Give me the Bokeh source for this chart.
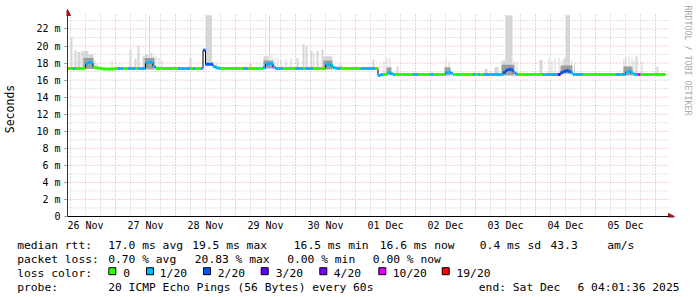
import math
from bokeh.plotting import figure
from bokeh.layouts import column
from bokeh.models import Range1d, FixedTicker, Arrow, NormalHead, ColumnDataSource
from bokeh.core.properties import value
from bokeh.embed import file_html
from bokeh.resources import INLINE

# ---------------- data ----------------
day_labels = ["26 Nov", "27 Nov", "28 Nov", "29 Nov", "30 Nov",
              "01 Dec", "02 Dec", "03 Dec", "04 Dec", "05 Dec"]
day_label_hours = [12, 36, 60, 84, 108, 132, 156, 180, 204, 228]   # noon of each day (hours since 26 Nov 00:00)
y_ticks = [0, 2, 4, 6, 8, 10, 12, 14, 16, 18, 20, 22]
y_tick_labels = ["0", "2 m", "4 m", "6 m", "8 m", "10 m", "12 m", "14 m", "16 m", "18 m", "20 m", "22 m"]

first_hour = 5  # first hourly bin: 26 Nov 05:00
median_rtt = [  # ms, hourly bins
    17.35, 17.35, 17.35, 17.35, 17.35, 17.35, 17.4, 17.9, 18.05, 18.0, 17.5, 17.45, 17.4, 17.35, 17.3, 17.3, 17.3, 17.3, 17.3,
    17.35, 17.35, 17.35, 17.35, 17.35, 17.35, 17.35, 17.35, 17.35, 17.35, 17.35, 17.35, 18.0, 18.1, 18.05, 17.6, 17.4, 17.35, 17.35, 17.35, 17.35, 17.35, 17.35, 17.35,
    17.35, 17.35, 17.35, 17.35, 17.35, 17.35, 17.35, 17.35, 17.35, 17.35, 17.35, 19.5, 17.85, 17.85, 17.85, 17.6, 17.45, 17.4, 17.35, 17.35, 17.35, 17.35, 17.35, 17.35,
    17.35, 17.35, 17.35, 17.35, 17.35, 17.35, 17.35, 17.35, 17.35, 17.35, 17.35, 17.45, 17.9, 17.95, 17.95, 17.5, 17.35, 17.35, 17.35, 17.35, 17.35, 17.35, 17.35, 17.35,
    17.35, 17.35, 17.35, 17.35, 17.35, 17.35, 17.35, 17.35, 17.35, 17.35, 17.35, 17.35, 17.8, 17.85, 17.7, 17.45, 17.4, 17.35, 17.35, 17.35, 17.35, 17.35, 17.35, 17.35,
    17.35, 17.35, 17.35, 17.35, 17.35, 17.35, 17.35, 17.35, 17.35, 16.55, 16.65, 16.65, 16.7, 16.9, 16.75, 16.65, 16.65, 16.65, 16.65, 16.65, 16.65, 16.65, 16.65, 16.65,
    16.65, 16.65, 16.65, 16.65, 16.65, 16.65, 16.65, 16.65, 16.65, 16.65, 16.65, 16.65, 16.85, 16.95, 16.8, 16.65, 16.65, 16.65, 16.65, 16.65, 16.65, 16.65, 16.65, 16.65,
    16.65, 16.65, 16.65, 16.65, 16.65, 16.65, 16.65, 16.65, 16.65, 16.65, 16.65, 16.9, 17.15, 17.25, 17.2, 16.9, 16.7, 16.65, 16.65, 16.65, 16.65, 16.65, 16.65, 16.65,
    16.65, 16.65, 16.65, 16.65, 16.65, 16.65, 16.65, 16.65, 16.65, 16.65, 16.85, 17.0, 17.1, 17.05, 16.85, 16.65, 16.65, 16.65, 16.65, 16.65, 16.65, 16.65, 16.65, 16.65,
    16.65, 16.65, 16.65, 16.65, 16.65, 16.65, 16.65, 16.65, 16.65, 16.65, 16.65, 16.65, 16.9, 17.05, 16.85, 16.7, 16.65, 16.65, 16.65, 16.65, 16.65, 16.65, 16.65, 16.65,
    16.65, 16.65, 16.65, 16.65,
]
lost_pings = [  # pings lost out of 20, hourly bins
    0, 0, 1, 0, 0, 0, 0, 1, 1, 1, 0, 0, 0, 0, 0, 0, 0, 0, 0,
    0, 1, 1, 0, 0, 1, 1, 1, 0, 1, 1, 1, 1, 1, 1, 1, 0, 0, 0, 0, 0, 0, 0, 0,
    0, 1, 1, 1, 1, 1, 0, 1, 0, 0, 1, 2, 2, 2, 2, 1, 1, 1, 0, 0, 0, 0, 0, 0,
    0, 0, 0, 1, 1, 0, 0, 0, 0, 0, 0, 1, 1, 1, 1, 1, 1, 1, 1, 0, 0, 0, 0, 0,
    1, 1, 1, 0, 1, 1, 1, 0, 0, 0, 0, 0, 1, 1, 1, 1, 1, 1, 0, 0, 0, 0, 0, 0,
    0, 0, 1, 1, 1, 1, 1, 1, 0, 1, 1, 0, 0, 1, 1, 1, 0, 0, 0, 0, 0, 0, 0, 1,
    1, 0, 0, 0, 0, 0, 1, 0, 0, 0, 0, 0, 1, 1, 1, 0, 0, 0, 0, 0, 0, 0, 0, 1,
    0, 1, 0, 1, 1, 1, 1, 1, 1, 1, 1, 2, 2, 2, 2, 1, 1, 0, 0, 0, 0, 0, 0, 0,
    0, 0, 0, 1, 1, 1, 1, 1, 1, 3, 2, 2, 2, 2, 1, 1, 1, 1, 1, 0, 0, 0, 0, 0,
    0, 0, 0, 0, 0, 0, 0, 0, 1, 1, 1, 1, 1, 1, 1, 1, 1, 10, 0, 0, 0, 0, 0, 0,
    0, 0, 0, 0,
]
# light smoke (spread of the 20 pings): start hour, end hour, highest ping (ms)
smoke_start = [6.0, 7.6, 8.8, 10.4, 11.2, 13.2, 15.6, 16.4, 22.4,
               29.6, 31.6, 32.8, 34.8, 35.6, 37.4, 38.0, 39.2, 40.0, 41.2, 42.4,
               53.6, 59.2, 60.2, 63.0, 64.2,
               77.6, 83.2, 85.4, 86.4, 87.6, 88.8, 90.0, 92.0, 94.0,
               96.4, 98.8, 100.0, 102.0, 103.2, 104.4, 106.4, 107.2, 113.2,
               126.8, 131.2, 132.4, 133.6, 136.4,
               156.0, 157.2, 171.6, 175.6, 178.4, 180.0, 183.2, 184.4,
               193.6, 197.2, 198.4, 199.6, 201.2, 202.4, 203.2, 204.2, 206.2, 207.4,
               227.2, 228.0, 229.2, 230.4, 231.2, 232.0, 234.4, 240.4]
smoke_end = [6.8, 8.4, 10.0, 11.2, 13.2, 15.2, 16.0, 16.8, 22.8,
             30.4, 32.4, 33.6, 35.6, 37.2, 37.8, 38.8, 39.6, 40.4, 41.6, 42.8,
             54.4, 60.0, 62.6, 63.4, 64.6,
             78.4, 85.2, 85.8, 86.8, 88.0, 89.2, 90.4, 92.4, 94.4,
             97.2, 99.6, 100.8, 102.8, 103.6, 105.2, 107.2, 110.8, 114.8,
             127.6, 131.6, 132.8, 134.0, 137.2,
             156.4, 157.6, 172.8, 177.2, 180.0, 182.8, 183.6, 184.8,
             194.8, 197.6, 198.8, 200.0, 201.6, 202.8, 204.2, 205.8, 206.6, 207.8,
             227.6, 228.4, 229.6, 230.8, 231.6, 232.8, 234.8, 241.2]
smoke_top = [21.0, 19.5, 19.3, 19.4, 19.4, 19.0, 18.3, 18.0, 18.3,
             19.6, 18.5, 20.0, 18.8, 19.0, 23.6, 19.2, 18.9, 18.8, 18.6, 18.3,
             18.6, 19.7, 23.6, 18.2, 18.0,
             17.9, 18.8, 23.6, 19.0, 18.6, 18.6, 18.4, 18.5, 18.6,
             18.6, 20.2, 20.0, 19.4, 19.2, 19.4, 19.6, 18.8, 17.8,
             18.4, 18.3, 18.6, 18.6, 17.6,
             18.45, 18.2, 17.3, 17.5, 18.3, 23.6, 18.2, 18.1,
             18.4, 18.6, 18.3, 18.5, 18.6, 18.4, 18.6, 23.6, 18.2, 18.0,
             18.5, 18.8, 18.7, 18.6, 18.3, 18.8, 18.2, 17.6]
# dense (dark) smoke around the bumps
core_start = [11.2, 35.6, 83.2, 107.2, 132.4, 155.6, 178.4, 202.0, 227.2]
core_end = [15.2, 39.6, 87.2, 110.8, 134.4, 158.0, 183.6, 206.8, 230.8]
core_top = [18.6, 18.6, 18.3, 18.3, 17.5, 17.5, 17.8, 17.7, 17.6]

loss_levels = [0, 1, 2, 3, 4, 10, 19]
loss_labels = ["0", "1/20", "2/20", "3/20", "4/20", "10/20", "19/20"]
loss_colors = ["#26ff00", "#00b8ff", "#0059ff", "#5e00ff", "#7e00ff", "#dd00ff", "#ff0000"]

stats_rtt = ["median rtt:", "17.0 ms avg", "19.5 ms max", "16.5 ms min", "16.6 ms now", "0.4 ms sd", "43.3", "am/s"]
stats_loss = ["packet loss:", "0.70 % avg", "20.83 % max", "0.00 % min", "0.00 % now"]
probe_line = ["probe:", "20 ICMP Echo Pings (56 Bytes) every 60s", "end: Sat Dec", "6 04:01:36 2025"]
loss_title = "loss color:"
y_title = "Seconds"
credit = "RRDTOOL / TOBI OETIKER"

# ---------------- layout (pixels) ----------------
W = 697
H_MAIN = 234
MONO = "DejaVu Sans Mono"
X0 = 4.8            # hours at the y axis (x = 67 px)
PX_PER_H = 2.5
PX_PER_MS = 8.525   # 0 ms at y = 216 px


def dx(px):
    return X0 + (px - 67) / PX_PER_H


def dy(py):
    return (216 - py) / PX_PER_MS


main = figure(width=W, height=H_MAIN, output_backend="svg", toolbar_location=None,
              x_range=Range1d(dx(66), dx(697)), y_range=Range1d(dy(217), dy(0)),
              min_border_left=66, min_border_right=0, min_border_top=0, min_border_bottom=H_MAIN - 217)
main.frame_align = False
main.outline_line_color = None
main.background_fill_color = "white"
main.border_fill_color = "white"
main.grid.visible = False

# grid (dotted), drawn only inside the graph area
x_left, x_right = dx(67), dx(668)
y_bot, y_top = 0, dy(13)
minor_x = [h for h in range(6, 246, 6) if h % 24 != 0]
major_x = list(range(24, 246, 24))
minor_y = list(range(1, 24, 2))
major_y = list(range(2, 24, 2))
for xs, col in ((minor_x, "#c4c4c4"), (major_x, "#e8a0a0")):
    main.segment(x0=xs, x1=xs, y0=[y_bot] * len(xs), y1=[y_top] * len(xs),
                 line_color=col, line_dash="1 2", line_width=1)
for ys, col in ((minor_y, "#c4c4c4"), (major_y, "#e8a0a0")):
    main.segment(x0=[x_left] * len(ys), x1=[x_right] * len(ys), y0=ys, y1=ys,
                 line_color=col, line_dash="1 2", line_width=1)

# axes (labels / ticks only; axis lines are drawn by the arrows)
xa = main.xaxis[0]
xa.ticker = FixedTicker(ticks=day_label_hours)
xa.major_label_overrides = {h: lab for h, lab in zip(day_label_hours, day_labels)}
xa.major_tick_out = 0
xa.major_tick_in = 0
xa.minor_tick_out = 0
xa.minor_tick_in = 0
xa.axis_line_color = None
xa.major_label_standoff = 2
xa.major_label_text_font = MONO
xa.major_label_text_font_size = "10px"
xa.major_label_text_color = "black"

ya = main.yaxis[0]
ya.ticker = FixedTicker(ticks=y_ticks)
ya.major_label_overrides = {t: lab for t, lab in zip(y_ticks, y_tick_labels)}
ya.major_tick_out = 2
ya.major_tick_in = 0
ya.minor_tick_out = 0
ya.minor_tick_in = 0
ya.axis_line_color = None
ya.major_tick_line_color = "#777777"
ya.major_label_standoff = 4
ya.major_label_text_font = MONO
ya.major_label_text_font_size = "10px"
ya.major_label_text_color = "black"
ya.axis_label = y_title
ya.axis_label_text_font = MONO
ya.axis_label_text_font_size = "11.5px"
ya.axis_label_text_font_style = "normal"
ya.axis_label_text_color = "black"
ya.axis_label_standoff = 16

# smoke
hours = list(range(first_hour, first_hour + len(median_rtt)))
smoke_bottom = [median_rtt[int(s) - first_hour] for s in smoke_start]
main.quad(left=smoke_start, right=smoke_end, bottom=smoke_bottom, top=smoke_top,
          fill_color="#d6d6d6", line_color=None)
core_bottom = [median_rtt[int(s) - first_hour] - 0.1 for s in core_start]
main.quad(left=core_start, right=core_end, bottom=core_bottom, top=core_top,
          fill_color="#8c8c8c", fill_alpha=0.8, line_color=None)

# median line: thin black step + loss-coloured thick segments
main.step(x=hours + [hours[-1] + 1], y=median_rtt + [median_rtt[-1]], mode="after",
          line_color="black", line_width=1)


def color_for(n):
    c = loss_colors[0]
    for lv, col in zip(loss_levels, loss_colors):
        if n >= lv:
            c = col
    return c


seg = ColumnDataSource(dict(x0=hours, x1=[h + 1 for h in hours], y=median_rtt,
                            c=[color_for(n) for n in lost_pings]))
main.segment(x0="x0", x1="x1", y0="y", y1="y", line_color="c", line_width=3, source=seg)

# axis lines with arrow heads
head_col = "#a01818"
main.add_layout(Arrow(end=NormalHead(size=6, fill_color=head_col, line_color=head_col),
                      x_start=dx(67), y_start=0, x_end=dx(67), y_end=dy(9),
                      line_color="#333333", line_width=1))
main.add_layout(Arrow(end=NormalHead(size=6, fill_color=head_col, line_color=head_col),
                      x_start=dx(67), y_start=0, x_end=dx(674), y_end=0,
                      line_color="black", line_width=1))

# vertical credit text at the right edge
main.text(x=[dx(687.5)], y=[dy(60)], text=[credit], angle=-math.pi / 2,
          text_align="center", text_baseline="middle", text_font=value(MONO),
          text_font_size=value("8.3px"), text_color="#a8a8a8")

# ---------------- legend / statistics area ----------------
H_LEG = 297 - H_MAIN
leg = figure(width=W, height=H_LEG, output_backend="svg", toolbar_location=None,
             x_range=Range1d(0, W), y_range=Range1d(297, H_MAIN),
             x_axis_location=None, y_axis_location=None,
             min_border_left=0, min_border_right=0, min_border_top=0, min_border_bottom=0)
leg.frame_align = False
leg.outline_line_color = None
leg.grid.visible = False
leg.background_fill_color = "white"
leg.border_fill_color = "white"

FS = value("11.3px")
rtt_px = [16.7, 107.7, 191.7, 293.3, 379.3, 479.3, 550.0, 606.7]
loss_px = [16.7, 107.7, 194.3, 286.7, 372.3]
probe_px = [16.7, 107.7, 478.3, 577.0]
base_y = [244.8, 258.7, 272.6, 286.5]
txt_x, txt_y, txt = [], [], []
for items, xs, by in ((stats_rtt, rtt_px, base_y[0]), (stats_loss, loss_px, base_y[1]),
                      (probe_line, probe_px, base_y[3])):
    txt_x += xs
    txt_y += [by] * len(items)
    txt += items
box_px = [108.3, 146.0, 203.0, 260.7, 319.3, 378.3, 441.7]
lab_px = [122.7, 159.3, 217.3, 275.3, 333.3, 392.3, 456.0]
txt_x += [16.7] + lab_px
txt_y += [base_y[2]] * (1 + len(loss_labels))
txt += [loss_title] + loss_labels
leg.text(x=txt_x, y=txt_y, text=txt, text_font=value(MONO), text_font_size=FS,
         text_baseline="alphabetic", text_align="left", text_color="black")
leg.rect(x=[b + 3.5 for b in box_px], y=[270.7] * len(box_px), width=7, height=7,
         fill_color=loss_colors, line_color="black", line_width=1)

layout = column(main, leg, spacing=0)
open("out.html", "w").write(file_html(layout, INLINE))
